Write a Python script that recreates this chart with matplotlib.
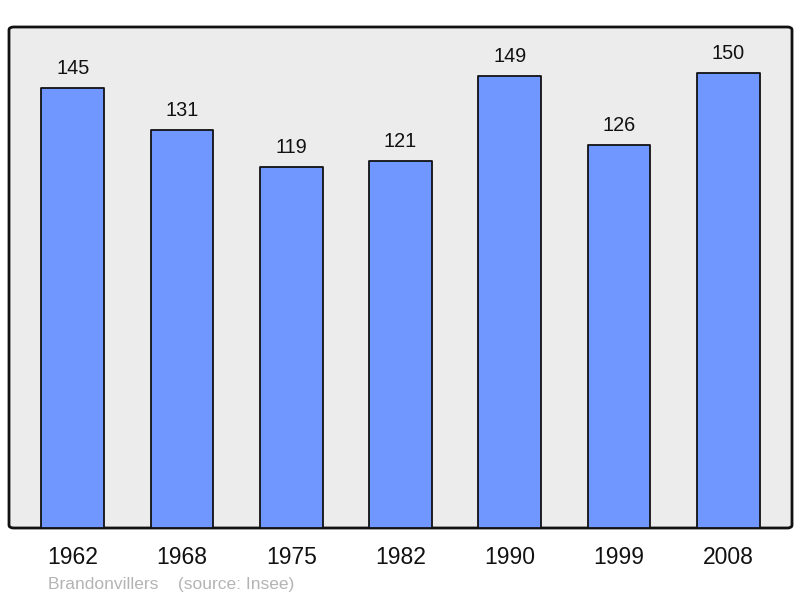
import matplotlib
matplotlib.use('Agg')
import matplotlib.pyplot as plt
from matplotlib.patches import FancyBboxPatch

# Population data
years = ['1962', '1968', '1975', '1982', '1990', '1999', '2008']
population = [145, 131, 119, 121, 149, 126, 150]
town = 'Brandonvillers'
source = '(source: Insee)'

plt.rcParams['font.family'] = ['Liberation Sans', 'DejaVu Sans']

fig = plt.figure(figsize=(8, 5.98), dpi=100)
ax = fig.add_axes([9/800, 70/598, 783/800, 501/598])
ax.set_facecolor('none')

# rounded frame with grey fill
frame = FancyBboxPatch((0, 0), 1, 1, boxstyle='round,pad=0,rounding_size=0.006',
                       transform=ax.transAxes, facecolor='#ececec',
                       edgecolor='#111111', linewidth=2, zorder=0, clip_on=False)
ax.add_patch(frame)
for s in ax.spines.values():
    s.set_visible(False)

x = range(len(years))
bars = ax.bar(x, population, width=0.575, color='#7097ff', edgecolor='#111111',
              linewidth=1.3, zorder=2)
for b in bars:
    b.set_joinstyle('round')

for xi, v in zip(x, population):
    ax.annotate(str(v), (xi, v), xytext=(0, 14), textcoords='offset points',
                ha='center', va='center', fontsize=14.3, color='#111111')

ax.set_xlim(-0.585, 6.585)
ax.set_ylim(0, 165)
ax.set_yticks([])
ax.set_xticks(list(x))
ax.set_xticklabels(years, fontsize=16.5, color='#111111')
ax.tick_params(axis='x', length=0, pad=13)

fig.text(48/800, 1 - 584/598, town + '    ' + source, fontsize=12.5,
         color='#b4b4b4', ha='left', va='center')

fig.savefig('out.png', dpi=100)
